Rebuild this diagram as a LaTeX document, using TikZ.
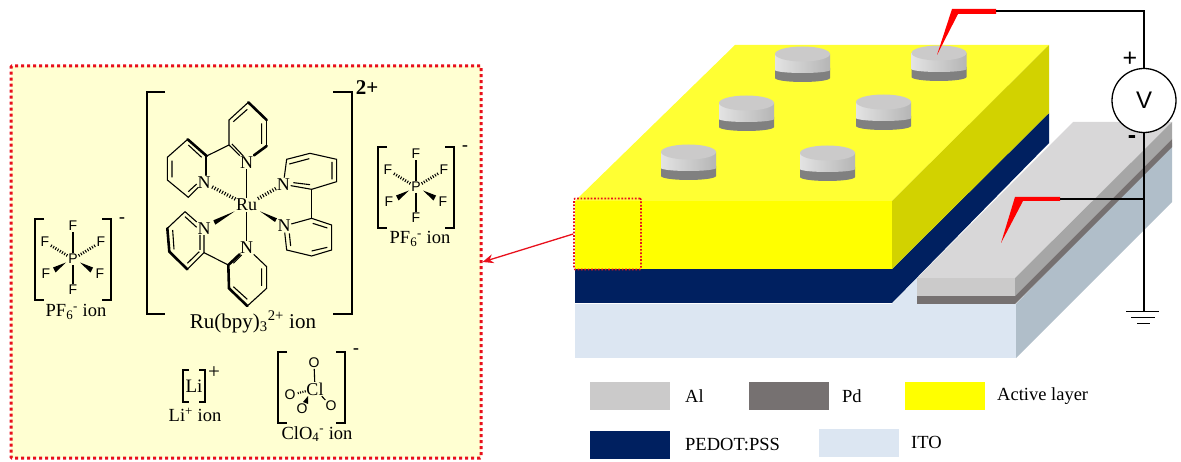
\documentclass[tikz,border=0pt]{standalone}
\usepackage{fontspec}
\setmainfont{Liberation Serif}
\newfontfamily\atomfont{Liberation Sans}
\usetikzlibrary{arrows.meta,calc}
\definecolor{panelbg}{HTML}{FFFFD2}
\definecolor{marker}{HTML}{E8101C}
\definecolor{navy}{HTML}{002060}
\definecolor{itoface}{HTML}{DCE6F2}
\definecolor{itoside}{HTML}{B0BEC9}
\definecolor{alface}{HTML}{CBCACA}
\definecolor{altop}{HTML}{D8D7D8}
\definecolor{alside}{HTML}{A6A6A6}
\definecolor{pdface}{HTML}{767171}
\definecolor{actfront}{HTML}{FFFF00}
\definecolor{acttop}{HTML}{FFFF33}
\definecolor{actside}{HTML}{D2D200}
\definecolor{probe}{HTML}{FF0000}
\tikzset{
  txt/.style={font=\fontsize{18.5}{20}\selectfont,inner sep=0pt},
  lig/.style={inner sep=0.6pt,font=\fontsize{18}{18}\selectfont},
  atm/.style={inner sep=0.8pt,font=\atomfont\fontsize{14}{14}\selectfont},
  chg/.style={inner sep=0pt,font=\atomfont\fontsize{19}{19}\selectfont},
  brk/.style={line width=1.7pt},
  bnd/.style={line width=1.1pt},
  bold/.style={line width=2.6pt,line cap=round},
  hash/.style={line width=3.5pt,dash pattern=on 1pt off 1.8pt},
  wire/.style={line width=1.3pt,black},
  swatch/.style={minimum width=80pt,minimum height=28pt,inner sep=0pt,draw=none},
  % PF6 group, 76 wide
  pfion/.pic={
    \node[atm] (-p) at (0,0) {P};
    \node[atm] (-t) at (0,-33) {F};
    \node[atm] (-b) at (0,31) {F};
    \node[atm] (-tl) at (-28,-17) {F};
    \node[atm] (-tr) at (28,-17) {F};
    \node[atm] (-bl) at (-27,15) {F};
    \node[atm] (-br) at (27,15) {F};
    \draw[bnd] (-p)--(-t); \draw[bnd] (-p)--(-b);
    \draw[line width=2.8pt,dash pattern=on 1pt off 1.6pt] (-p)--(-tl);
    \draw[line width=2.8pt,dash pattern=on 1pt off 1.6pt] (-p)--(-tr);
    \fill (-7,3.5)--(-20,8.5)--(-17.5,13.5)--cycle;
    \fill (7,3.5)--(20,8.5)--(17.5,13.5)--cycle;
    \draw[brk] (-29,-40)--(-38,-40)--(-38,41)--(-29,41);
    \draw[brk] (29,-40)--(38,-40)--(38,41)--(29,41);
    \node[chg] (-ch) at (49,-38) {-};
  },
  % metal pad on the active layer
  pad/.pic={
    \fill[gray] (-27.5,14)--(-27.5,24) arc[start angle=180,end angle=0,x radius=27.5,y radius=4]--(27.5,14)--cycle;
    \shade[left color=gray!22,right color=gray!58] (-27.5,0)--(-27.5,16) arc[start angle=180,end angle=0,x radius=27.5,y radius=3]--(27.5,0)--cycle;
    \fill[alface] (0,0) ellipse[x radius=27.5,y radius=7.5];
  }
}
\begin{document}
\begin{tikzpicture}[x=1pt,y=-1pt]
\useasboundingbox (0,0) rectangle (1181,462);

% device stack
\fill[itoface] (575,304)--(1016,304)--(1016,358)--(575,358)--cycle;
\fill[itoside] (1016,304)--(1172,143)--(1172,202)--(1016,358)--cycle;
\fill[itoface] (892,304)--(917,278)--(917,304)--cycle;
\fill[navy] (575,269)--(892,269)--(1049,113)--(1049,143)--(892,303)--(575,303)--cycle;
\fill[acttop] (575,201)--(892,201)--(1049,45)--(735,45)--cycle;
\fill[actfront] (575,201) rectangle (892,269);
\fill[actside] (892,201)--(1049,45)--(1049,113)--(892,269)--cycle;

% bottom contact
\fill[altop] (917,278)--(1015,278)--(1172,122)--(1073,122)--cycle;
\fill[alface] (917,278) rectangle (1015,296);
\fill[pdface] (917,296) rectangle (1015,304);
\fill[alside] (1015,278)--(1172,122)--(1172,139)--(1015,296)--cycle;
\fill[pdface] (1015,296)--(1172,139)--(1172,147)--(1015,304)--cycle;

% top pads
\foreach \px/\py in {802.5/54,939/53,746.5/103,883.5/102,688.5/152,827.5/153}
  \pic at (\px,\py) {pad};

% probes and meter
\fill[probe] (937,55)--(952,9)--(996,9)--(996,14)--(958,14)--cycle;
\fill[probe] (1001,243)--(1015,197)--(1060,197)--(1060,201)--(1023,201)--cycle;
\node[circle,draw,line width=1.3pt,fill=white,minimum size=64pt,inner sep=0pt,font=\atomfont\fontsize{24}{24}\selectfont] (volt) at (1144,100.5) {V};
\coordinate (probetop) at (996,11);
\coordinate (probelow) at (1060,199);
\coordinate (junction) at (1144,199);
\coordinate (gnd) at (1144,311);
\draw[wire] (probetop)-|(volt.north);
\draw[wire] (volt.south)--(gnd);
\draw[wire] (probelow)--(junction);
\draw[line width=1.5pt] (1126,311.5)--(1159,311.5);
\draw[line width=1.5pt] (1131,317.5)--(1155,317.5);
\draw[line width=1.5pt] (1137,323.5)--(1150,323.5);
\node[inner sep=0pt,font=\atomfont\fontsize{25}{25}\selectfont] (plus) at (1130,59) {+};
\node[inner sep=0pt,font=\atomfont\bfseries\fontsize{25}{25}\selectfont] (minus) at (1132,140) {-};

% legend
\node[swatch,fill=alface] (keyal) at (630,395.5) {};
\node[swatch,fill=pdface] (keypd) at (789,395.5) {};
\node[swatch,fill=actfront] (keyact) at (945,395.5) {};
\node[swatch,fill=navy] (keypedot) at (630,445) {};
\node[swatch,fill=itoface] (keyito) at (859,443) {};
\node[txt,anchor=west] (lblal) at (685,396) {Al};
\node[txt,anchor=west] (lblpd) at (842,396) {Pd};
\node[txt,anchor=west] (lblact) at (997,396) {Active layer};
\node[txt,anchor=west] (lblpedot) at (685,445) {PEDOT:PSS};
\node[txt,anchor=west] (lblito) at (911,442) {ITO};

% zoom panel
\node[draw=marker,line width=3pt,dash pattern=on 3pt off 3pt,fill=panelbg,rounded corners=1pt,minimum width=470pt,minimum height=392pt,inner sep=0pt] (panel) at (246,262) {};
\node[draw=marker,line width=1.6pt,dash pattern=on 1.7pt off 1.7pt,rounded corners=1pt,minimum width=67pt,minimum height=71pt,inner sep=0pt] (inset) at (607.5,234) {};
\draw[-{Stealth[length=11pt,width=9pt]},marker,line width=1.3pt] (inset.west)--(panel.east);

% Ru complex, traced at 3x
\begin{scope}[shift={(130,70)},x=1/3*1pt,y=-1/3*1pt]
  \node[lig] (ru) at (350,405) {Ru};
  \node[lig] (na) at (350,277) {N};
  \node[lig] (nb) at (222,338) {N};
  \node[lig] (nc) at (460,343) {N};
  \node[lig] (nd) at (222,475) {N};
  \node[lig] (ne) at (462,468) {N};
  \node[lig] (nf) at (350,533) {N};
  \draw[bnd] (ru)--(na);
  \draw[bnd] (ru)--(nf);
  \draw[hash] (ru)--(nb);
  \draw[hash] (ru)--(nc);
  \fill (314,424)--(250,451)--(256,464)--cycle;
  \fill (390,424)--(441,445)--(435,456)--cycle;
  % upper pair
  \draw[bnd] (na)--(297,225)--(297,150)--(355,97);
  \draw[bold] (355,97)--(410,150);
  \draw[bnd] (410,150)--(410,228);
  \draw[bold] (410,228)--(372,256);
  \draw[bnd] (310,155)--(352,118) (395,160)--(395,222) (306,222)--(340,258);
  \draw[bnd] (297,225)--(230,258);
  \draw[bold] (230,258)--(173,208);
  \draw[bold] (228,258)--(228,315);
  \draw[bnd] (173,208)--(112,262)--(112,330)--(175,382)--(205,352);
  \draw[bnd] (175,225)--(215,262) (126,272)--(126,322) (175,365)--(200,342);
  % right pair
  \draw[bnd] (nc)--(470,268)--(540,250)--(620,268)--(620,335)--(545,358)--(nc);
  \draw[bnd] (478,282)--(538,266) (606,276)--(606,328) (540,344)--(490,338);
  \draw[bnd] (545,358)--(545,445);
  \draw[bnd] (ne)--(545,445)--(605,465)--(605,540)--(545,558)--(470,540)--(ne);
  \draw[bnd] (548,460)--(592,474) (592,532)--(545,543) (482,528)--(478,490);
  % lower pair
  \draw[bnd] (nd)--(165,425);
  \draw[bnd] (165,425)--(112,475);
  \draw[bold] (112,475)--(118,545)--(172,598);
  \draw[bnd] (172,598)--(222,548)--(nd);
  \draw[bnd] (165,440)--(200,472) (128,480)--(132,538) (172,580)--(208,545) (210,495)--(210,540);
  \draw[bnd] (222,548)--(295,585);
  \draw[bold] (nf)--(295,585)--(297,655)--(352,708);
  \draw[bnd] (352,708)--(410,655)--(410,590)--(nf);
  \draw[bnd] (310,580)--(335,555) (310,650)--(352,688) (395,595)--(395,648);
  % brackets
  \draw[brk] (105,65)--(50,65)--(50,732)--(105,732);
  \draw[brk] (610,65)--(665,65)--(665,732)--(610,732);
\end{scope}
\node[inner sep=0pt,font=\fontsize{21}{21}\selectfont\bfseries] (charge) at (367,88) {2+};
\node[txt,font=\fontsize{21}{22}\selectfont] (lblru) at (253,322) {Ru(bpy)\textsubscript{3}\textsuperscript{2+} ion};

% counter ions
\pic (pfa) at (73,259) {pfion};
\pic (pfb) at (416,187) {pfion};
\node[txt] (lblpfa) at (76,312) {PF\textsubscript{6}\textsuperscript{-} ion};
\node[txt] (lblpfb) at (420,239) {PF\textsubscript{6}\textsuperscript{-} ion};

\node[inner sep=0pt,font=\fontsize{19}{19}\selectfont] (li) at (194,386) {Li};
\draw[brk] (189,370)--(183,370)--(183,402)--(189,402);
\draw[brk] (199,370)--(205,370)--(205,402)--(199,402);
\node[inner sep=0pt,font=\fontsize{21}{21}\selectfont] (lichg) at (214,373) {+};
\node[txt] (lblli) at (195,415) {Li\textsuperscript{+} ion};

\node[lig] (cl) at (315,389) {Cl};
\node[atm] (ot) at (314,363) {O};
\node[atm] (ol) at (290,395) {O};
\node[atm] (ob) at (302,409) {O};
\node[atm] (or) at (331,406) {O};
\draw[bnd] (cl)--(ot);
\draw[bnd] (cl)--(or);
\draw[line width=2.2pt,dash pattern=on 1pt off 1.4pt] (cl)--(ol);
\fill (308,396)--(303,402)--(308,404)--cycle;
\draw[brk] (287,352)--(278,352)--(278,423)--(287,423);
\draw[brk] (336,352)--(345,352)--(345,423)--(336,423);
\node[chg] (clchg) at (356,352) {-};
\node[txt] (lblcl) at (317,434) {ClO\textsubscript{4}\textsuperscript{-} ion};
\end{tikzpicture}
\end{document}
